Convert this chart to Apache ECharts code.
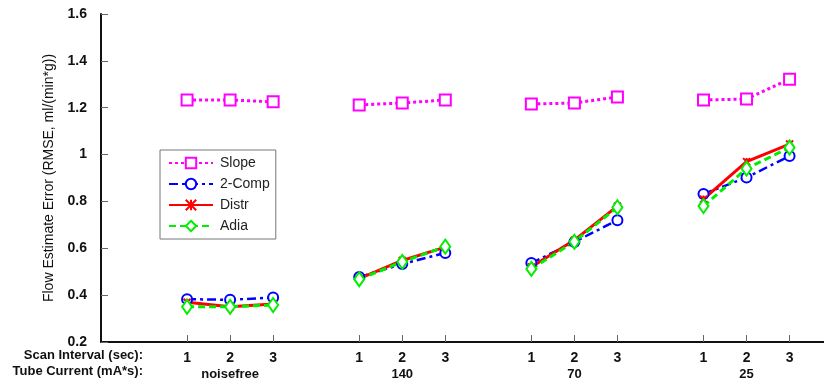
<!DOCTYPE html>
<html>
<head>
<meta charset="utf-8">
<script src="https://cdn.jsdelivr.net/npm/echarts@6/dist/echarts.min.js"></script>
<style>
  html, body { margin: 0; padding: 0; background: #fff; }
  #chart { width: 824px; height: 384px; }
</style>
</head>
<body>
<div id="chart"></div>
<script>
// x positions of the points (gap of one slot between groups)
var xPos = [2, 3, 4, 6, 7, 8, 10, 11, 12, 14, 15, 16];
var gapPos = [5, 9, 13];
var scanInterval = ['1', '2', '3', '1', '2', '3', '1', '2', '3', '1', '2', '3'];
var tubeCurrent = ['noisefree', '140', '70', '25'];
var yTicks = [0.2, 0.4, 0.6, 0.8, 1, 1.2, 1.4, 1.6];

var slope = [1.233, 1.233, 1.225, 1.212, 1.22, 1.233, 1.216, 1.22, 1.246, 1.233, 1.237, 1.322];
var twoComp = [0.383, 0.38, 0.39, 0.477, 0.533, 0.58, 0.537, 0.627, 0.72, 0.832, 0.902, 0.994];
var distr = [0.37, 0.35, 0.362, 0.47, 0.548, 0.605, 0.52, 0.635, 0.78, 0.81, 0.97, 1.045];
var adia = [0.35, 0.35, 0.358, 0.468, 0.542, 0.607, 0.512, 0.628, 0.775, 0.78, 0.94, 1.03];

var font = 'Liberation Sans, Arial, sans-serif';

// build point list, broken between groups
function buildData(vals) {
  var out = [];
  for (var i = 0; i < vals.length; i++) {
    out.push([xPos[i], vals[i]]);
    if (i % 3 === 2 && i < vals.length - 1) {
      out.push([gapPos[(i - 2) / 3], '-']);
    }
  }
  return out;
}

var chart = echarts.init(document.getElementById('chart'));

var option = {
  animation: false,
  grid: { left: 101, right: 0, top: 14, bottom: 42, containLabel: false },
  legend: {
    left: 160,
    top: 150,
    orient: 'vertical',
    backgroundColor: '#fff',
    borderColor: '#777',
    borderWidth: 1,
    borderRadius: 0,
    padding: [6, 6, 6, 8],
    itemGap: 7,
    itemWidth: 44,
    itemHeight: 13,
    textStyle: { fontFamily: font, fontSize: 14, color: '#222', padding: [0, 0, 0, 2] },
    data: ['Slope', '2-Comp', 'Distr', 'Adia']
  },
  xAxis: {
    type: 'value',
    min: 0,
    max: 16.8,
    splitLine: { show: false },
    axisLine: { lineStyle: { color: '#111', width: 2 } },
    axisTick: {
      inside: true,
      length: 7,
      customValues: xPos,
      lineStyle: { color: '#666', width: 1 }
    },
    axisLabel: {
      customValues: xPos,
      margin: 8,
      fontFamily: font,
      fontSize: 14,
      fontWeight: 'bold',
      color: '#111',
      lineHeight: 16,
      rich: {
        t: { fontFamily: font, fontSize: 13, fontWeight: 'bold', color: '#111', lineHeight: 16 }
      },
      formatter: function (v) {
        var i = xPos.indexOf(v);
        if (i < 0) return '';
        if (i % 3 === 1) {
          return scanInterval[i] + '\n{t|' + tubeCurrent[(i - 1) / 3] + '}';
        }
        return scanInterval[i] + '\n{t| }';
      }
    }
  },
  yAxis: {
    type: 'value',
    min: 0.2,
    max: 1.6,
    interval: 0.2,
    name: 'Flow Estimate Error (RMSE, ml/(min*g))',
    nameLocation: 'middle',
    nameGap: 45,
    nameTextStyle: { fontFamily: font, fontSize: 14, color: '#111' },
    splitLine: { show: false },
    axisLine: { show: true, lineStyle: { color: '#111', width: 2 } },
    axisTick: { show: true, inside: true, length: 7, lineStyle: { color: '#666', width: 1 } },
    axisLabel: {
      margin: 14,
      fontFamily: font,
      fontSize: 14,
      fontWeight: 'bold',
      color: '#111',
      formatter: function (v) {
        return String(Math.round(v * 10) / 10);
      }
    }
  },
  graphic: [
    {
      type: 'text',
      right: 824 - 143,
      top: 349,
      style: { text: 'Scan Interval (sec):', font: 'bold 13px ' + font, fill: '#111', textAlign: 'right' }
    },
    {
      type: 'text',
      right: 824 - 143,
      top: 365,
      style: { text: 'Tube Current (mA*s):', font: 'bold 13px ' + font, fill: '#111', textAlign: 'right' }
    }
  ],
  series: [
    {
      name: 'Slope',
      type: 'line',
      data: buildData(slope),
      connectNulls: false,
      symbol: 'emptyRect',
      symbolSize: 11,
      color: '#ff00ff',
      lineStyle: { color: '#ff00ff', width: 3, type: [3, 3] },
      itemStyle: { color: '#ff00ff', borderColor: '#ff00ff', borderWidth: 3 }
    },
    {
      name: '2-Comp',
      type: 'line',
      data: buildData(twoComp),
      connectNulls: false,
      symbol: 'emptyCircle',
      symbolSize: 10,
      color: '#0000ff',
      lineStyle: { color: '#0000ff', width: 2.5, type: [9, 4, 3, 4] },
      itemStyle: { color: '#0000ff', borderColor: '#0000ff', borderWidth: 2.5 }
    },
    {
      name: 'Distr',
      type: 'line',
      data: buildData(distr),
      connectNulls: false,
      symbol: 'path://M0,0L10,10M10,0L0,10M5,0L5,10',
      symbolSize: 7,
      color: '#ff0000',
      lineStyle: { color: '#ff0000', width: 3 },
      itemStyle: { color: '#ff0000', borderColor: '#ff0000', borderWidth: 2 }
    },
    {
      name: 'Adia',
      type: 'line',
      data: buildData(adia),
      connectNulls: false,
      symbol: 'emptyDiamond',
      symbolSize: [10, 14],
      color: '#00ee00',
      lineStyle: { color: '#00ee00', width: 3, type: [7, 4] },
      itemStyle: { color: '#00ee00', borderColor: '#00ee00', borderWidth: 2.5 }
    }
  ]
};

chart.setOption(option);
</script>
</body>
</html>
